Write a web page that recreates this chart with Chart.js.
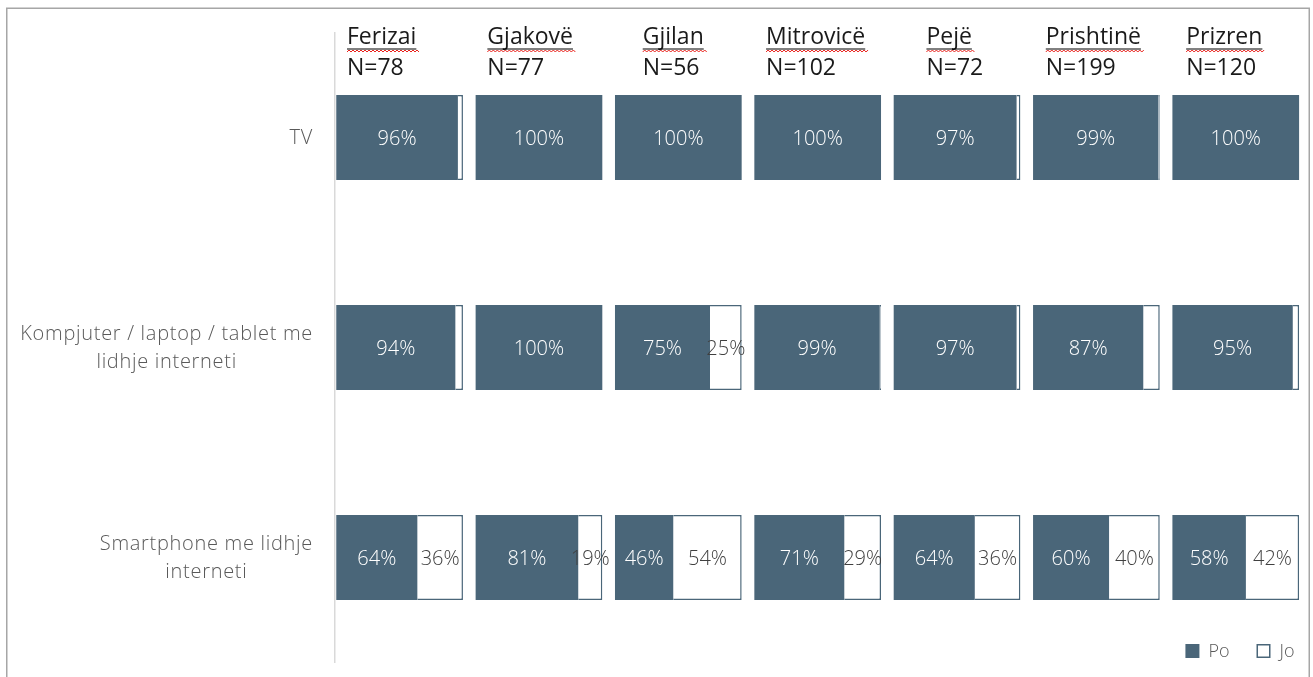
<!DOCTYPE html>
<html>
<head>
<meta charset="utf-8">
<script src="https://cdn.jsdelivr.net/npm/chart.js@4.4.1/dist/chart.umd.min.js"></script>
<style>
  html, body { margin: 0; padding: 0; background: #ffffff; }
  #wrap { position: relative; width: 1313px; height: 677px; }
</style>
</head>
<body>
<div id="wrap"><canvas id="chart"></canvas></div>
<script>
// ---------------- data ----------------
const cities = ['Ferizai', 'Gjakovë', 'Gjilan', 'Mitrovicë', 'Pejë', 'Prishtinë', 'Prizren'];
const sampleSizes = [78, 77, 56, 102, 72, 199, 120];
const categories = [
  ['TV'],
  ['Kompjuter / laptop / tablet me', 'lidhje interneti'],
  ['Smartphone me lidhje', 'interneti']
];
const seriesNames = ['Po', 'Jo'];

// values per category, one entry per city (same order as `cities`)
const poTV         = [96, 100, 100, 100, 97, 99, 100];
const joTV         = [4, 0, 0, 0, 3, 1, 0];
const poComputer   = [94, 100, 75, 99, 97, 87, 95];
const joComputer   = [6, 0, 25, 1, 3, 13, 5];
const poSmartphone = [64, 81, 46, 71, 64, 60, 58];
const joSmartphone = [36, 19, 54, 29, 36, 40, 42];

// ---------------- style ----------------
const PO_COLOR = '#4A6679';
const JO_FILL = '#ffffff';
const FONT = "'Open Sans', 'Segoe UI', sans-serif";
const HEADER_OFFSETS = [12, 13, 29, 13, 34, 14, 15];
const MIN_JO_LABEL = 15;

const poByCategory = [poTV, poComputer, poSmartphone];
const joByCategory = [joTV, joComputer, joSmartphone];

const datasets = [];
cities.forEach((city, i) => {
  datasets.push({
    label: seriesNames[0],
    data: poByCategory.map(arr => arr[i]),
    xAxisID: 'x' + i,
    backgroundColor: PO_COLOR,
    borderColor: PO_COLOR,
    borderWidth: 0,
    barPercentage: 1,
    categoryPercentage: 0.405
  });
  datasets.push({
    label: seriesNames[1],
    data: joByCategory.map(arr => arr[i]),
    xAxisID: 'x' + i,
    backgroundColor: JO_FILL,
    borderColor: PO_COLOR,
    borderWidth: 1.5,
    borderSkipped: 'start',
    barPercentage: 1,
    categoryPercentage: 0.405
  });
});

const scales = {
  y: {
    type: 'category',
    stacked: true,
    grid: { display: false, drawTicks: false },
    ticks: { display: false },
    border: { display: true, color: '#d9d9d9', width: 1.5 }
  }
};
cities.forEach((city, i) => {
  scales['x' + i] = {
    type: 'linear',
    position: 'bottom',
    stack: 'panels',
    stackWeight: 1,
    stacked: true,
    min: -1,
    max: 109,
    grid: { display: false, drawTicks: false },
    ticks: { display: false },
    border: { display: false }
  };
});

function drawWave(ctx, x0, x1, y) {
  ctx.beginPath();
  let up = true;
  ctx.moveTo(x0, y + 2);
  for (let x = x0 + 2; x <= x1; x += 2) {
    ctx.lineTo(x, up ? y : y + 2);
    up = !up;
  }
  ctx.stroke();
}

const decor = {
  id: 'decor',
  beforeDraw(chart) {
    const ctx = chart.ctx;
    ctx.save();
    ctx.fillStyle = '#ffffff';
    ctx.fillRect(0, 0, chart.width, chart.height);
    ctx.strokeStyle = '#a6a6a6';
    ctx.lineWidth = 1.5;
    ctx.strokeRect(6.75, 8.25, chart.width - 10.5, chart.height + 20);
    ctx.restore();
  },
  afterDatasetsDraw(chart) {
    const ctx = chart.ctx;
    ctx.save();
    ctx.font = `300 20px ${FONT}`;
    ctx.textAlign = 'center';
    ctx.textBaseline = 'middle';
    chart.data.datasets.forEach((ds, di) => {
      const meta = chart.getDatasetMeta(di);
      const isPo = ds.label === seriesNames[0];
      meta.data.forEach((el, j) => {
        const v = ds.data[j];
        if (!v || (!isPo && v < MIN_JO_LABEL)) return;
        ctx.fillStyle = isPo ? '#ffffff' : '#404040';
        ctx.fillText(v + '%', (el.x + el.base) / 2, el.y + 1.5);
      });
    });
    ctx.restore();
  },
  afterDraw(chart) {
    const ctx = chart.ctx;
    const area = chart.chartArea;
    ctx.save();
    // panel headers
    cities.forEach((city, i) => {
      const sc = chart.scales['x' + i];
      const x = sc.left + HEADER_OFFSETS[i];
      ctx.font = `400 23px ${FONT}`;
      ctx.fillStyle = '#1a1a1a';
      ctx.textAlign = 'left';
      ctx.textBaseline = 'alphabetic';
      ctx.fillText(city, x, area.top + 11.5);
      const w = ctx.measureText(city).width;
      ctx.strokeStyle = '#000000';
      ctx.lineWidth = 1;
      ctx.beginPath();
      ctx.moveTo(x, area.top + 16.5);
      ctx.lineTo(x + w, area.top + 16.5);
      ctx.stroke();
      ctx.strokeStyle = '#e8231d';
      drawWave(ctx, x, x + w + 3, area.top + 17.5);
      ctx.fillText('N=' + sampleSizes[i], x, area.top + 42.5);
    });
    // category labels
    const ys = chart.scales.y;
    ctx.font = `300 20px ${FONT}`;
    ctx.letterSpacing = '0.7px';
    ctx.fillStyle = '#595959';
    ctx.textAlign = 'center';
    ctx.textBaseline = 'middle';
    const right = area.left - 22;
    const lh = 27.5;
    categories.forEach((lines, k) => {
      const cy = ys.getPixelForValue(k) + 1;
      const maxW = Math.max(...lines.map(l => ctx.measureText(l).width));
      const cx = right - maxW / 2;
      const startY = cy - (lines.length - 1) * lh / 2;
      lines.forEach((l, n) => ctx.fillText(l, cx, startY + n * lh));
    });
    ctx.letterSpacing = '0px';
    // legend
    ctx.font = `300 18px ${FONT}`;
    ctx.textAlign = 'left';
    const box = 14, gapBox = 9, gapItem = 27;
    const items = seriesNames.map(n => ({ name: n, w: ctx.measureText(n).width }));
    const total = items.reduce((s, it) => s + box + gapBox + it.w, 0) + gapItem * (items.length - 1);
    let lx = area.right - 16 - total;
    const ly = area.bottom - 11.5;
    items.forEach((it, k) => {
      if (k === 0) {
        ctx.fillStyle = PO_COLOR;
        ctx.fillRect(lx, ly - box / 2, box, box);
      } else {
        ctx.fillStyle = JO_FILL;
        ctx.fillRect(lx, ly - box / 2, box, box);
        ctx.strokeStyle = PO_COLOR;
        ctx.lineWidth = 1.5;
        ctx.strokeRect(lx + 0.75, ly - box / 2 + 0.75, box - 1.5, box - 1.5);
      }
      ctx.fillStyle = '#595959';
      ctx.fillText(it.name, lx + box + gapBox, ly + 1);
      lx += box + gapBox + it.w + gapItem;
    });
    ctx.restore();
  }
};

new Chart(document.getElementById('chart'), {
  type: 'bar',
  data: { labels: categories, datasets },
  options: {
    indexAxis: 'y',
    responsive: true,
    maintainAspectRatio: false,
    animation: false,
    events: [],
    layout: { padding: { left: 335, top: 32.5, right: 2.5, bottom: 14.5 } },
    scales,
    plugins: {
      legend: { display: false },
      tooltip: { enabled: false }
    }
  },
  plugins: [decor]
});
</script>
</body>
</html>
